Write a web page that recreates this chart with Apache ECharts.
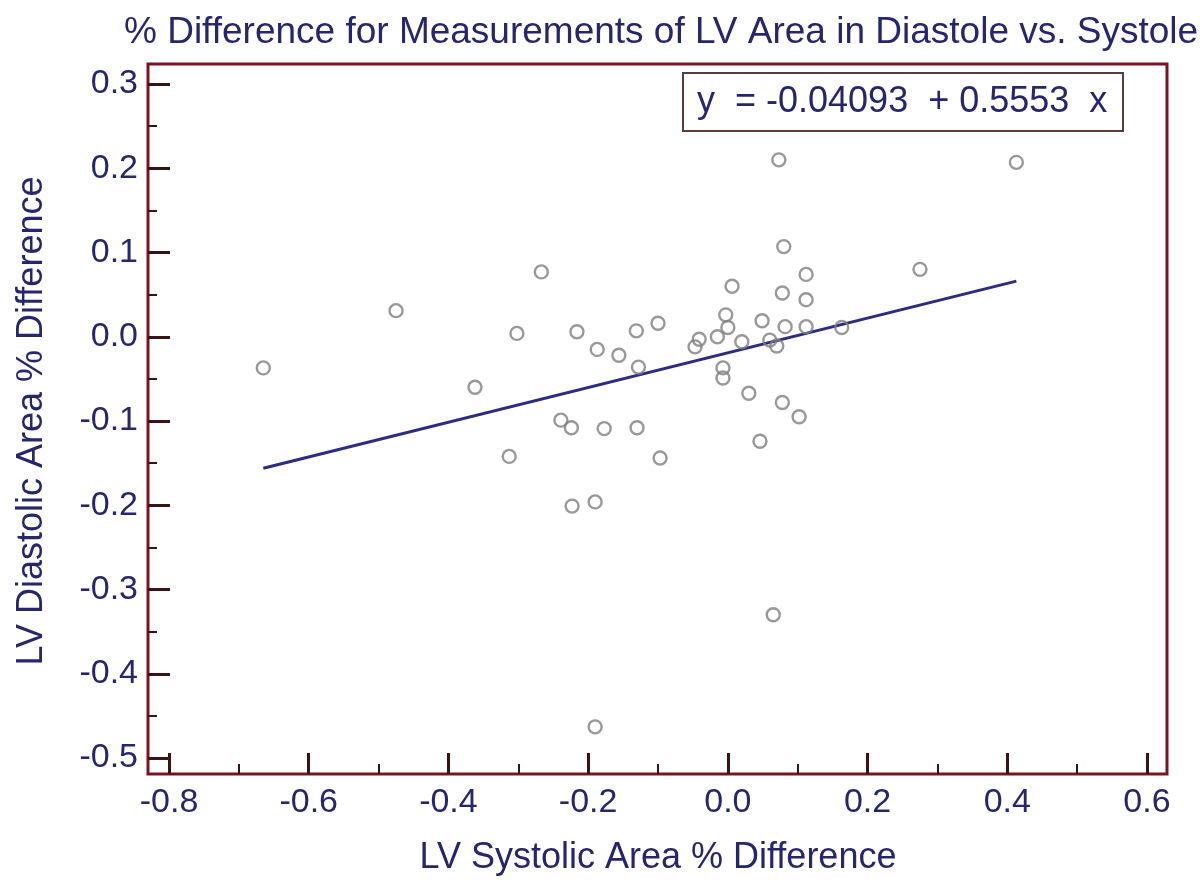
<!DOCTYPE html>
<html>
<head>
<meta charset="utf-8">
<script src="https://cdn.jsdelivr.net/npm/echarts@6/dist/echarts.min.js"></script>
<style>html,body{margin:0;padding:0;background:#fff;}#c{width:1200px;height:889px;}</style>
</head>
<body>
<div id="c"></div>
<script>
const titleText = '% Difference for Measurements of LV Area in Diastole vs. Systole';
const xName = 'LV Systolic Area % Difference';
const yName = 'LV Diastolic Area % Difference';
const equationText = 'y  = -0.04093  + 0.5553  x';
const xTicks = [-0.8, -0.6, -0.4, -0.2, 0.0, 0.2, 0.4, 0.6];
const yTicks = [-0.5, -0.4, -0.3, -0.2, -0.1, 0.0, 0.1, 0.2, 0.3];
const xs = [-0.665,-0.475,-0.362,-0.302,-0.267,-0.313,-0.239,-0.224,-0.216,-0.223,-0.190,-0.187,-0.177,-0.156,-0.131,-0.128,-0.130,-0.100,-0.097,-0.190,-0.047,-0.041,-0.015,-0.003,0.000,-0.007,-0.007,0.006,0.020,0.030,0.046,0.049,0.060,0.070,0.065,0.073,0.078,0.078,0.080,0.082,0.102,0.112,0.112,0.112,0.163,0.275,0.413];
const ys = [-0.037,0.031,-0.060,0.004,0.077,-0.142,-0.099,-0.108,0.006,-0.201,-0.196,-0.015,-0.109,-0.022,0.007,-0.036,-0.108,0.016,-0.144,-0.463,-0.012,-0.003,0.000,0.026,0.011,-0.037,-0.049,0.060,-0.006,-0.067,-0.124,0.019,-0.004,-0.011,-0.330,0.210,0.052,-0.078,0.107,0.012,-0.095,0.074,0.044,0.012,0.011,0.080,0.207];
const fitXs = [-0.665, 0.413];
const fitYs = [-0.156, 0.066];

const FONT = '"Liberation Sans", Arial, sans-serif';
const NAVY = '#26266e';
const FRAME = '#7a1424';
const TICK = '#3a1414';

const chart = echarts.init(document.getElementById('c'), null, {renderer: 'canvas'});
chart.setOption({
  animation: false,
  backgroundColor: '#ffffff',
  title: [
    {text: titleText, left: 119, top: 9, textStyle: {fontFamily: FONT, fontSize: 37, fontWeight: 'normal', color: NAVY}},
    {text: equationText, left: 683, top: 73, padding: [11, 16, 11, 14], borderColor: '#5a3c3c', borderWidth: 2,
     textStyle: {fontFamily: FONT, fontSize: 36, fontWeight: 'normal', color: NAVY}}
  ],
  grid: [
    {left: 169, right: 53, top: 84, bottom: 131, containLabel: false},
    {left: 148, right: 33, top: 64, bottom: 115, show: true, borderColor: FRAME, borderWidth: 3, backgroundColor: 'transparent'}
  ],
  xAxis: [
    {gridIndex: 0, type: 'value', min: xTicks[0], max: xTicks[xTicks.length-1], interval: 0.2, offset: 16,
     name: xName, nameLocation: 'middle', nameGap: 66,
     nameTextStyle: {fontFamily: FONT, fontSize: 36, color: NAVY},
     axisLine: {show: false, onZero: false}, splitLine: {show: false},
     axisTick: {show: true, inside: true, length: 21, lineStyle: {color: TICK, width: 3}},
     minorTick: {show: true, splitNumber: 2, length: 10, lineStyle: {color: TICK, width: 2}},
     axisLabel: {margin: 12, fontFamily: FONT, fontSize: 34, color: NAVY, formatter: v => v.toFixed(1)}},
    {gridIndex: 1, type: 'value', min: 0, max: 1, show: false}
  ],
  yAxis: [
    {gridIndex: 0, type: 'value', min: yTicks[0], max: yTicks[yTicks.length-1], interval: 0.1, offset: 21,
     name: yName, nameLocation: 'middle', nameGap: 98,
     nameTextStyle: {fontFamily: FONT, fontSize: 36, color: NAVY},
     axisLine: {show: false, onZero: false}, splitLine: {show: false},
     axisTick: {show: true, inside: true, length: 22, lineStyle: {color: TICK, width: 3}},
     minorTick: {show: true, splitNumber: 2, length: 9, lineStyle: {color: TICK, width: 2}},
     axisLabel: {margin: 10, fontFamily: FONT, fontSize: 34, color: NAVY, formatter: v => v.toFixed(1)}},
    {gridIndex: 1, type: 'value', min: 0, max: 1, show: false}
  ],
  series: [
    {type: 'scatter', xAxisIndex: 0, yAxisIndex: 0, symbol: 'circle', symbolSize: 13,
     itemStyle: {color: 'rgba(255,255,255,0)', borderColor: '#808080', borderWidth: 2.4},
     data: xs.map((x, i) => [x, ys[i]]), z: 3},
    {type: 'line', xAxisIndex: 0, yAxisIndex: 0, showSymbol: false, symbol: 'none',
     lineStyle: {color: '#2c2c82', width: 3}, data: fitXs.map((x, i) => [x, fitYs[i]]), z: 2}
  ]
});
</script>
</body>
</html>
